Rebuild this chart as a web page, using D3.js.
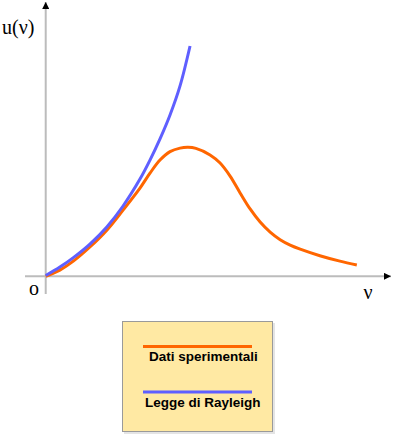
<!DOCTYPE html>
<html>
<head>
<meta charset="utf-8">
<script src="https://cdn.jsdelivr.net/npm/d3@7"></script>
<style>
	html, body { margin: 0; padding: 0; background: #fff; }
	svg { display: block; }
	.axis-line { stroke: #bcbcbc; stroke-width: 2; fill: none; }
	.sym { font-family: "Liberation Serif", "DejaVu Serif", serif; font-size: 20px; fill: #000; }
	.leg-text { font-family: "Liberation Sans", Arial, sans-serif; font-weight: bold; font-size: 13.5px; fill: #000; }
</style>
</head>
<body>
<div id="chart"></div>
<script>
'use strict';

// series (nu, u in arbitrary units)
const nuDati = [0, 4.1, 8.0, 12.8, 17.7, 22.4, 27.3, 30.2, 33.1, 36.0, 38.9, 41.2, 43.5, 47.6, 50.5,
	53.4, 56.3, 59.2, 62.1, 65.0, 67.9, 70.8, 73.7, 79.4, 85.2, 90.1];
const uDati = [0, 2.3, 5.6, 10.8, 17.0, 24.4, 32.5, 38.0, 42.8, 45.9, 47.2, 47.5, 47.1, 44.7, 41.7,
	36.9, 30.7, 24.8, 20.0, 16.3, 13.5, 11.5, 10.0, 7.6, 5.6, 4.2];

const nuRayleigh = [0, 4.1, 8.0, 12.8, 17.7, 22.4, 27.3, 30.2, 33.1, 36.0, 38.9, 41.8];
const uRayleigh = [0.3, 3.4, 6.9, 11.9, 18.2, 25.9, 35.8, 42.8, 50.6, 59.4, 70.1, 84.8];

const seriesNames = ['Dati sperimentali', 'Legge di Rayleigh'];
const seriesColors = ['#ff6600', '#5f5fff'];

const axisLabels = { x: 'ν', y: 'u(ν)', origin: 'o' };

(function () {

	const width = 396;
	const height = 437;

	const x = d3.scaleLinear().domain([-6, 100]).range([25, 391]);
	const y = d3.scaleLinear().domain([-6.5, 101]).range([294, 2]);

	const svg = d3.select('#chart')
		.append('svg')
		.attr('width', width)
		.attr('height', height);

	const defs = svg.append('defs');
	defs.append('marker')
		.attr('id', 'arrow')
		.attr('viewBox', '0 0 10 10')
		.attr('refX', 10)
		.attr('refY', 5)
		.attr('markerUnits', 'userSpaceOnUse')
		.attr('markerWidth', 7)
		.attr('markerHeight', 7)
		.attr('orient', 'auto')
		.append('path')
		.attr('d', 'M0,0 L10,5 L0,10 Z')
		.attr('fill', '#000');

	// axes
	svg.append('line')
		.classed('axis-line', true)
		.attr('x1', x(0)).attr('y1', y(-6.5))
		.attr('x2', x(0)).attr('y2', y(101))
		.attr('marker-end', 'url(#arrow)');

	svg.append('line')
		.classed('axis-line', true)
		.attr('x1', x(-6)).attr('y1', y(0))
		.attr('x2', x(100)).attr('y2', y(0))
		.attr('marker-end', 'url(#arrow)');

	svg.append('text')
		.classed('sym', true)
		.attr('x', 2)
		.attr('y', 34)
		.text(axisLabels.y);

	svg.append('text')
		.classed('sym', true)
		.attr('x', 368)
		.attr('y', 299)
		.attr('text-anchor', 'middle')
		.text(axisLabels.x);

	svg.append('text')
		.classed('sym', true)
		.attr('x', 34)
		.attr('y', 295)
		.attr('text-anchor', 'middle')
		.text(axisLabels.origin);

	// curves
	const line = d3.line()
		.x(d => x(d[0]))
		.y(d => y(d[1]))
		.curve(d3.curveCatmullRom.alpha(0.5));

	const series = [
		d3.zip(nuDati, uDati),
		d3.zip(nuRayleigh, uRayleigh)
	];

	svg.selectAll('path.curve')
		.data(series)
		.enter()
		.append('path')
		.classed('curve', true)
		.attr('fill', 'none')
		.attr('stroke', (d, i) => seriesColors[i])
		.attr('stroke-width', 3)
		.attr('stroke-linecap', 'butt')
		.attr('d', line);

	// legend box
	const legend = svg.append('g').attr('transform', 'translate(122, 321)');

	legend.append('rect')
		.attr('x', 2).attr('y', 2)
		.attr('width', 151).attr('height', 111)
		.attr('fill', '#e4e4e4');

	legend.append('rect')
		.attr('x', 0.5).attr('y', 0.5)
		.attr('width', 150).attr('height', 110)
		.attr('fill', '#ffe9a3')
		.attr('stroke', '#9a9a9a')
		.attr('stroke-width', 1);

	const item = legend.selectAll('g.item')
		.data(seriesNames)
		.enter()
		.append('g')
		.classed('item', true)
		.attr('transform', (d, i) => `translate(0, ${25.5 + i * 45.5})`);

	item.append('line')
		.attr('x1', 21).attr('x2', 130)
		.attr('y1', 0).attr('y2', 0)
		.attr('stroke', (d, i) => seriesColors[i])
		.attr('stroke-width', 3);

	item.append('text')
		.classed('leg-text', true)
		.attr('x', (d, i) => i === 0 ? 27 : 23)
		.attr('y', 14.5)
		.text(d => d);

})();
</script>
</body>
</html>
